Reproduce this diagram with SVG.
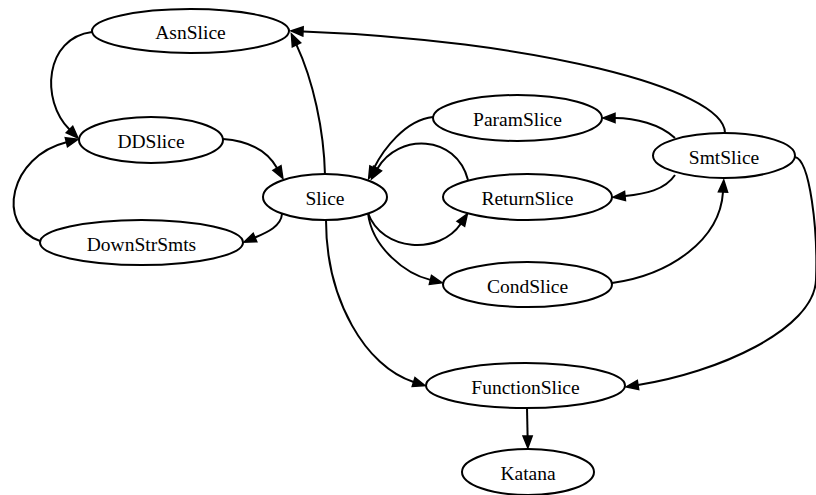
<svg xmlns="http://www.w3.org/2000/svg" width="816" height="495" viewBox="0 0 816 495">
  <style>
    .node ellipse { fill: #ffffff; stroke: #000000; stroke-width: 2; }
    .node text { font-family: "Liberation Serif", "Times New Roman", serif; font-size: 19.5px; fill: #000000; text-anchor: middle; }
    .edges path { fill: none; stroke: #000000; stroke-width: 2; marker-end: url(#arrow); }
  </style>
  <defs>
    <marker id="arrow" markerUnits="userSpaceOnUse" markerWidth="18" markerHeight="14" refX="1" refY="7" orient="auto" overflow="visible">
      <path d="M1,2.4 L13,7 L1,11.6 Z" fill="#000000" stroke="#000000" stroke-width="1.5" stroke-linejoin="miter"/>
    </marker>
  </defs>

  <rect width="816" height="495" fill="#ffffff"/>

  <!-- connectors: each path stops at the base of its arrowhead -->
  <g id="edges" class="edges">
    <path id="AsnSlice-DDSlice" d="M92,32 C45,38 40,100 69.5,129.5"/>
    <path id="DownStrSmts-DDSlice" d="M40,241 C-5,225 10,156 66.4,142.2"/>
    <path id="DDSlice-Slice" d="M223,139 C250,141 268,152 277,168"/>
    <path id="Slice-DownStrSmts" d="M282,214 C281,226 268,232 255,237.5"/>
    <path id="Slice-AsnSlice" d="M325,175 C324,130 313,80 296.5,44.8"/>
    <path id="SmtSlice-AsnSlice" d="M725,133 C725,88 530,40 303,31.4"/>
    <path id="ParamSlice-Slice" d="M433,117 C405,120 383,150 374,168"/>
    <path id="ReturnSlice-Slice" d="M468,180 C456,134 398,133 377.5,168.5"/>
    <path id="Slice-ReturnSlice" d="M368,213 C382,252 440,255 460.8,223.8"/>
    <path id="Slice-CondSlice" d="M368,213 C372,248 406,274 430.4,279.9"/>
    <path id="SmtSlice-ParamSlice" d="M675,138 C660,124 635,118 615,118"/>
    <path id="SmtSlice-ReturnSlice" d="M675,175 C665,190 645,194 625,196"/>
    <path id="CondSlice-SmtSlice" d="M612,283 C670,275 720,240 723,192"/>
    <path id="Slice-FunctionSlice" d="M326,220 C326,300 366,367 413.6,382"/>
    <path id="SmtSlice-FunctionSlice" d="M795,157 C810,160 818,230 816,280 C814,330 716,373 638,385"/>
    <path id="FunctionSlice-Katana" d="M527,408 L527.6,436"/>
  </g>

  <g id="AsnSlice" class="node">
    <ellipse cx="190.5" cy="31" rx="98.5" ry="22"/>
    <text x="190.5" y="39">AsnSlice</text>
  </g>
  <g id="DDSlice" class="node">
    <ellipse cx="151" cy="140" rx="72" ry="23"/>
    <text x="151" y="148">DDSlice</text>
  </g>
  <g id="Slice" class="node">
    <ellipse cx="325" cy="197" rx="62" ry="23"/>
    <text x="325" y="205">Slice</text>
  </g>
  <g id="DownStrSmts" class="node">
    <ellipse cx="141.5" cy="242.5" rx="101.5" ry="22.5"/>
    <text x="141.5" y="250.5">DownStrSmts</text>
  </g>
  <g id="ParamSlice" class="node">
    <ellipse cx="517.5" cy="118" rx="84.5" ry="23"/>
    <text x="517.5" y="126">ParamSlice</text>
  </g>
  <g id="SmtSlice" class="node">
    <ellipse cx="724" cy="155.5" rx="71" ry="22.5"/>
    <text x="724" y="163.5">SmtSlice</text>
  </g>
  <g id="ReturnSlice" class="node">
    <ellipse cx="527.5" cy="197" rx="84.5" ry="23"/>
    <text x="527.5" y="205">ReturnSlice</text>
  </g>
  <g id="CondSlice" class="node">
    <ellipse cx="527.5" cy="284.5" rx="84.5" ry="22.5"/>
    <text x="527.5" y="292.5">CondSlice</text>
  </g>
  <g id="FunctionSlice" class="node">
    <ellipse cx="525.5" cy="385.5" rx="99.5" ry="22.5"/>
    <text x="525.5" y="393.5">FunctionSlice</text>
  </g>
  <g id="Katana" class="node">
    <ellipse cx="528" cy="472" rx="66" ry="23"/>
    <text x="528" y="480">Katana</text>
  </g>
</svg>
